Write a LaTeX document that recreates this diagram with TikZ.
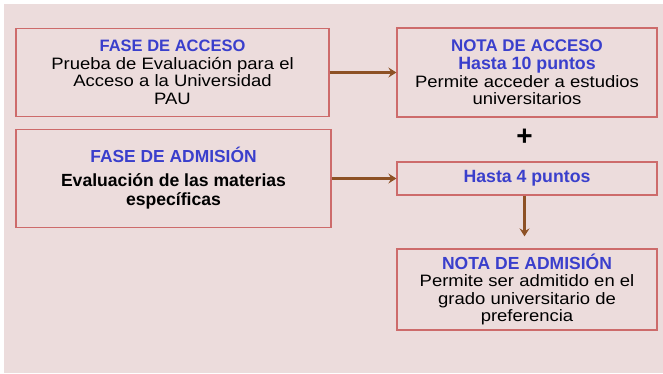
\documentclass[tikz,border=0pt]{standalone}
\usepackage{fontspec}
\setmainfont{Liberation Sans}
\newfontfamily\bodyf[FakeStretch=1.12]{Liberation Sans}
\usetikzlibrary{arrows.meta}
\definecolor{bgpink}{HTML}{ECDCDC}
\definecolor{bordred}{HTML}{CD6B6B}
\definecolor{tblue}{HTML}{3A3FCC}
\definecolor{arrbrown}{HTML}{8D5125}
\newcommand\ttlf[1]{\color{tblue}\bfseries\fontsize{#1}{17.6}\selectfont}
\newcommand\bdyf{\bodyf\fontsize{16.5}{17.6}\selectfont}
\begin{document}
\begin{tikzpicture}[x=1pt,y=-1pt,
  box/.style={draw=bordred,line width=1.3pt,inner sep=0pt,align=center,font=\fontsize{16.5}{17.6}\selectfont},
  conn/.style={draw=arrbrown,line width=2.4pt,-{Stealth[length=8pt,width=10pt,inset=3pt]}}]
\useasboundingbox (0,0) rectangle (663,373);
\fill[bgpink] (4,4) rectangle (663,373);
\node[box,minimum width=313pt,minimum height=88pt] (acc) at (172.5,72.5)
  {{\ttlf{16.5}FASE DE ACCESO}\\{\bdyf Prueba de Evaluación para el}\\{\bdyf Acceso a la Universidad}\\{\bdyf PAU}};
\node[box,minimum width=315pt,minimum height=98pt,font=\fontsize{16.5}{19}\selectfont] (adm) at (173.5,178.5)
  {{\ttlf{17.4}FASE DE ADMISIÓN}\\[5pt]{\bfseries\fontsize{17.6}{19}\selectfont Evaluación de las materias}\\{\bfseries\fontsize{17.6}{19}\selectfont específicas}};
\node[box,minimum width=260pt,minimum height=89pt] (nacc) at (527,72.5)
  {{\ttlf{16.9}NOTA DE ACCESO}\\{\ttlf{17.8}Hasta 10 puntos}\\{\bdyf Permite acceder a estudios}\\{\bdyf universitarios}};
\node (plus) at (524.5,137) {\bfseries\fontsize{28}{28}\selectfont +};
\node[box,minimum width=260pt,minimum height=33pt] (h4) at (527,178.5)
  {{\ttlf{17.7}Hasta 4 puntos}};
\node[box,minimum width=260pt,minimum height=81pt] (nadm) at (527,289.5)
  {{\ttlf{17.5}NOTA DE ADMISIÓN}\\{\bdyf Permite ser admitido en el}\\{\bdyf grado universitario de}\\{\bdyf preferencia}};
\draw[conn] (acc.east) -- (nacc.west |- acc.east);
\draw[conn] (adm.east) -- (h4.west |- adm.east);
\draw[conn,shorten >=12pt] (plus |- h4.south) -- (plus |- nadm.north);
\end{tikzpicture}
\end{document}
